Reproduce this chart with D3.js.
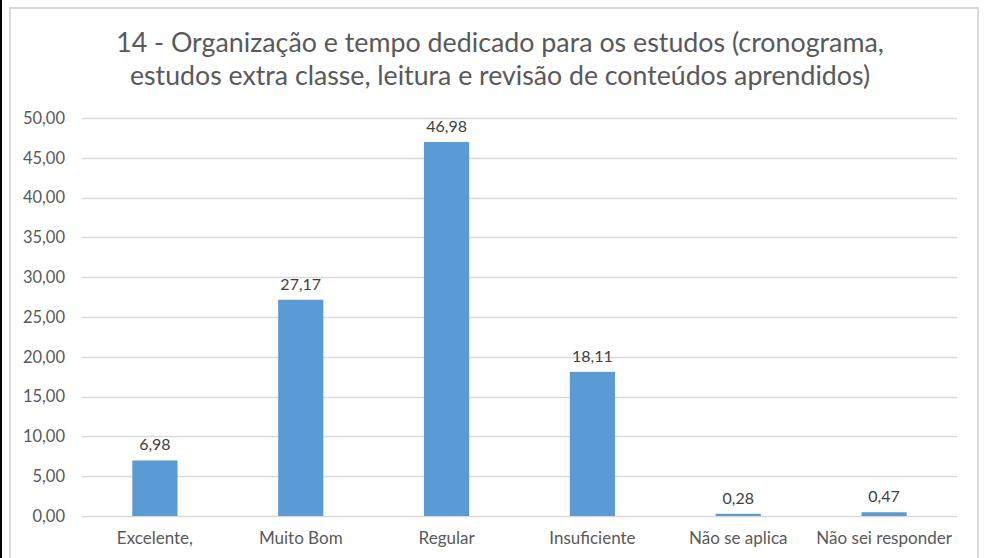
<!DOCTYPE html>
<html><head><meta charset="utf-8">
<script src="https://cdn.jsdelivr.net/npm/d3@7"></script>
<style>html,body{margin:0;padding:0;background:#fff;overflow:hidden}</style>
</head><body>
<svg id="c" width="984" height="558"></svg>
<script>
const categories = ["Excelente,", "Muito Bom", "Regular", "Insuficiente", "Não se aplica", "Não sei responder"];
const values = [6.98, 27.17, 46.98, 18.11, 0.28, 0.47];
const yTicks = [0, 5, 10, 15, 20, 25, 30, 35, 40, 45, 50];
const titleLines = ["14 - Organização e tempo dedicado para os estudos (cronograma,", "estudos extra classe, leitura e revisão de conteúdos aprendidos)"];

const svg = d3.select("#c");
const font = "Lato, 'Open Sans', sans-serif";
const fmt = v => d3.format(".2f")(v).replace(".", ",");

// frame
svg.append("rect").attr("x", 0).attr("y", 0).attr("width", 2).attr("height", 558).attr("fill", "#000");
svg.append("rect").attr("x", 10).attr("y", 8).attr("width", 968).attr("height", 560)
  .attr("fill", "none").attr("stroke", "#d9d9d9").attr("stroke-width", 2);

const x = d3.scaleBand().domain(categories).range([82, 957]).padding(0);
const y = d3.scaleLinear().domain([0, 50]).range([516, 118]);

// gridlines
svg.append("g").selectAll("line").data(yTicks).join("line")
  .attr("x1", 82).attr("x2", 957)
  .attr("y1", d => Math.round(y(d)) + 0.5).attr("y2", d => Math.round(y(d)) + 0.5)
  .attr("stroke", "#d9d9d9").attr("stroke-width", 1.3);

// y axis
const yAxis = svg.append("g").attr("transform", "translate(65,0)")
  .call(d3.axisLeft(y).tickValues(yTicks).tickFormat(fmt).tickSize(0).tickPadding(0));
yAxis.select(".domain").remove();
yAxis.selectAll("text").attr("fill", "#595959").style("font-family", font).style("font-size", "16.5px");

// x axis
const xAxis = svg.append("g").attr("transform", "translate(0,516)")
  .call(d3.axisBottom(x).tickSize(0).tickPadding(16));
xAxis.select(".domain").remove();
xAxis.selectAll("text").attr("fill", "#595959").style("font-family", font).style("font-size", "17px");

// bars
const bw = x.bandwidth() * 0.31;
svg.append("g").selectAll("rect").data(values).join("rect")
  .attr("x", (d, i) => x(categories[i]) + x.bandwidth() / 2 - bw / 2)
  .attr("width", bw)
  .attr("y", d => y(d))
  .attr("height", d => Math.max(y(0) - y(d), 0))
  .attr("fill", "#5b9bd5");

// labels
svg.append("g").selectAll("text").data(values).join("text")
  .attr("x", (d, i) => x(categories[i]) + x.bandwidth() / 2)
  .attr("y", d => y(d) - 10)
  .attr("text-anchor", "middle")
  .attr("fill", "#404040")
  .style("font-family", font).style("font-size", "16px")
  .text(fmt);

// title
const tg = svg.append("g");
titleLines.forEach((t, i) => {
  const el = tg.append("text").attr("x", 500).attr("y", 52 + i * 33)
    .attr("text-anchor", "middle").attr("fill", "#595959")
    .style("font-family", font).style("font-size", "26px").text(t);
  const target = i === 0 ? 768 : 740;
  const w = el.node().getComputedTextLength();
  if (w > 0) el.style("font-size", (26 * target / w).toFixed(2) + "px");
});
</script>
</body></html>
